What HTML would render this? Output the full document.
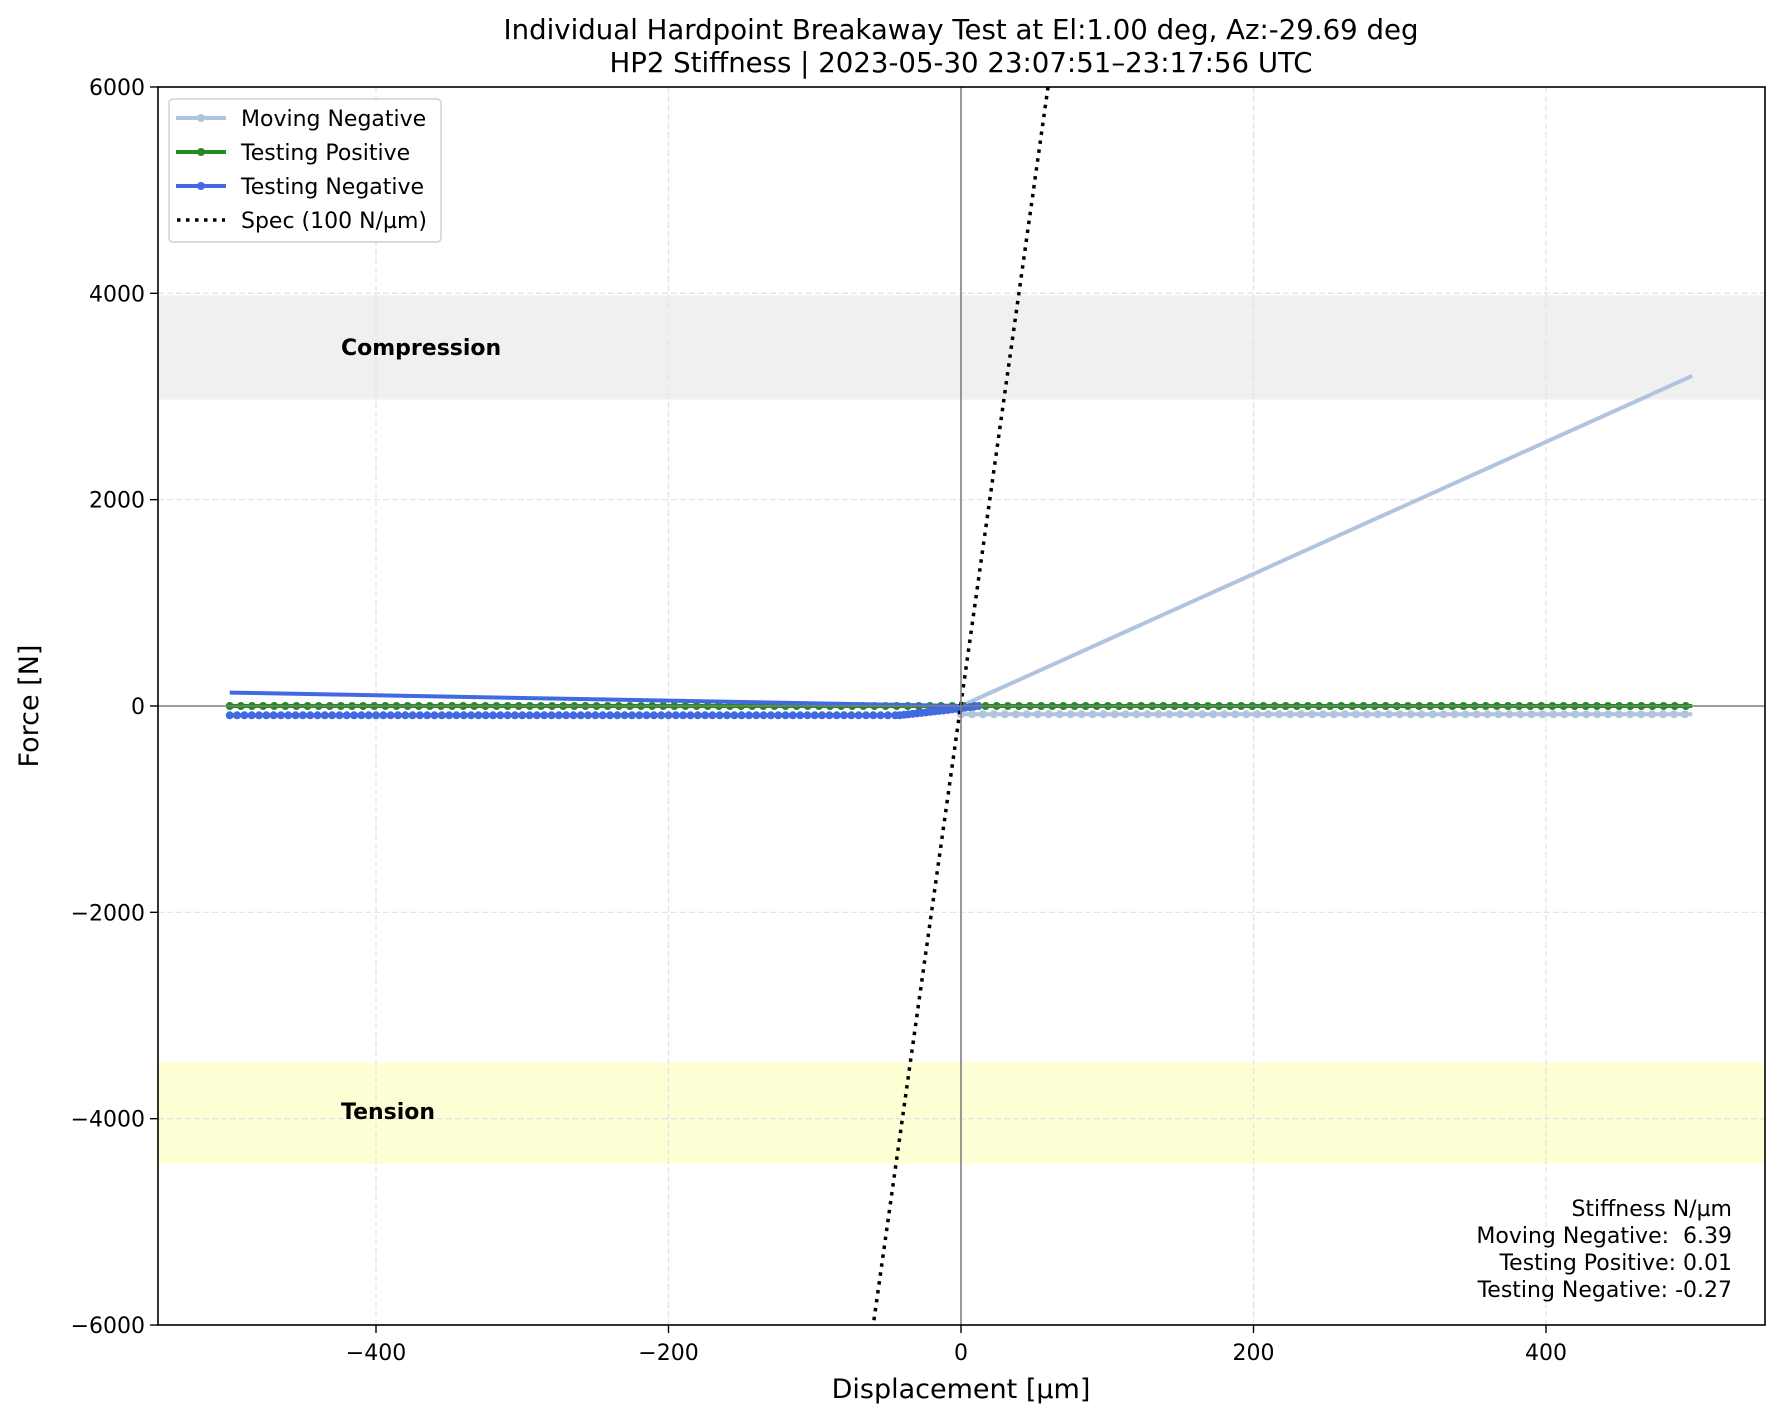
<!DOCTYPE html>
<html><head><meta charset="utf-8"><style>
html,body{margin:0;padding:0;background:#fff;}
svg{display:block;font-family:"DejaVu Sans","Liberation Sans",sans-serif;}
text{white-space:pre;}
</style></head><body>
<svg id="s" width="1782" height="1423" viewBox="0 0 1782 1423" xmlns="http://www.w3.org/2000/svg">
<rect width="1782" height="1423" fill="#fff"/>
<g id="bg"></g>
<g id="data"></g>
<g id="fg"></g>
</svg>
<script>
const NS="http://www.w3.org/2000/svg";
const X=x=>961+1.4625*x, Y=y=>706-0.10317*y;
function el(p,t,a,txt){const e=document.createElementNS(NS,t);for(const k in a)e.setAttribute(k,a[k]);if(txt!==undefined)e.textContent=txt;document.getElementById(p).appendChild(e);return e;}
const L=158,R=1765,T=87,B=1325;
el('bg','rect',{x:L,y:Y(3980),width:R-L,height:Y(2970)-Y(3980),fill:'#f0f0f0'});
el('bg','rect',{x:L,y:Y(-3455),width:R-L,height:Y(-4440)-Y(-3455),fill:'#ffffd6'});
for(const v of [-400,-200,0,200,400])el('bg','line',{x1:X(v),x2:X(v),y1:T,y2:B,stroke:'#e4e4e4','stroke-width':1.3,'stroke-dasharray':'6,3'});
for(const v of [-6000,-4000,-2000,0,2000,4000,6000])el('bg','line',{x1:L,x2:R,y1:Y(v),y2:Y(v),stroke:'#e4e4e4','stroke-width':1.3,'stroke-dasharray':'6,3'});
el('bg','text',{x:341,y:355,'font-size':22,'font-weight':'bold'},'Compression');
el('bg','text',{x:341,y:1119,'font-size':22,'font-weight':'bold'},'Tension');
el('data','line',{x1:X(0),y1:Y(0),x2:X(500),y2:Y(3200),stroke:'#b0c4de','stroke-width':4});
let d='';for(let x=0;x<=500;x+=7.5)d+=`M${X(x)},${Y(-80)}h0`;
el('data','line',{x1:X(0),y1:Y(-80),x2:X(500),y2:Y(-80),stroke:'#b0c4de','stroke-width':4});
el('data','path',{d:d,stroke:'#b0c4de','stroke-width':8,'stroke-linecap':'round'});
d='';for(let x=-500;x<=500;x+=7.6)d+=`M${X(x)},${Y(0)}h0`;
el('data','line',{x1:X(-500),y1:Y(0),x2:X(500),y2:Y(0),stroke:'#228b22','stroke-width':4});
el('data','path',{d:d,stroke:'#228b22','stroke-width':8,'stroke-linecap':'round'});
el('data','line',{x1:X(-500),y1:Y(130),x2:X(0),y2:Y(0),stroke:'#4169e1','stroke-width':4});
el('data','path',{d:`M${X(-500)},${Y(-90)}L${X(-42)},${Y(-90)}L${X(-10)},${Y(-40)}L${X(12)},${Y(0)}`,stroke:'#4169e1','stroke-width':4,fill:'none'});
d='';for(let x=-500;x<=-42;x+=5)d+=`M${X(x)},${Y(-90)}h0`;
for(let x=-42;x<=12;x+=3){const y=x<-10?-90+50*(x+42)/32:-40+40*(x+10)/22;d+=`M${X(x)},${Y(y)}h0`;}
el('data','path',{d:d,stroke:'#4169e1','stroke-width':8,'stroke-linecap':'round'});
el('data','line',{x1:X(59.5),y1:Y(6000),x2:X(-60),y2:Y(-6000),stroke:'#000','stroke-width':3.5,'stroke-dasharray':'3.5,5.5'});
el('fg','line',{x1:L,x2:R,y1:Y(0),y2:Y(0),stroke:'#808080','stroke-width':1.6});
el('fg','line',{x1:X(0),x2:X(0),y1:T,y2:B,stroke:'#808080','stroke-width':1.6});
el('fg','rect',{x:L,y:T,width:R-L,height:B-T,fill:'none',stroke:'#000','stroke-width':1.6});
for(const v of [-400,-200,0,200,400]){el('fg','line',{x1:X(v),x2:X(v),y1:B,y2:B+8,stroke:'#000','stroke-width':1.4});
 el('fg','text',{x:X(v),y:B+35,'font-size':22,'text-anchor':'middle'},v<0?'\u2212'+(-v):v);}
for(const v of [-6000,-4000,-2000,0,2000,4000,6000]){el('fg','line',{x1:L-8,x2:L,y1:Y(v),y2:Y(v),stroke:'#000','stroke-width':1.4});
 el('fg','text',{x:L-13,y:Y(v)+8,'font-size':22,'text-anchor':'end'},v<0?'\u2212'+(-v):v);}
el('fg','text',{x:961,y:1398,'font-size':27,'text-anchor':'middle'},'Displacement [µm]');
el('fg','text',{x:0,y:0,'font-size':27,'text-anchor':'middle',transform:'translate(38,706) rotate(-90)'},'Force [N]');
el('fg','text',{x:961,y:39,'font-size':27.6,'text-anchor':'middle'},'Individual Hardpoint Breakaway Test at El:1.00 deg, Az:-29.69 deg');
el('fg','text',{x:961,y:72,'font-size':27.6,'text-anchor':'middle'},'HP2 Stiffness | 2023-05-30 23:07:51–23:17:56 UTC');
el('fg','rect',{x:169,y:99,width:272,height:143,rx:4,fill:'#fff','fill-opacity':0.85,stroke:'#d0d0d0','stroke-width':1.5});
const items=[['Moving Negative','#b0c4de',0],['Testing Positive','#228b22',0],['Testing Negative','#4169e1',0],['Spec (100 N/µm)','#000',1]];
items.forEach((it,i)=>{const y=118+34*i;
 if(it[2])el('fg','line',{x1:177,x2:225,y1:y,y2:y,stroke:'#000','stroke-width':3.5,'stroke-dasharray':'3.5,5.5'});
 else{el('fg','line',{x1:176,x2:226,y1:y,y2:y,stroke:it[1],'stroke-width':4});el('fg','circle',{cx:201,cy:y,r:4,fill:it[1]});}
 el('fg','text',{x:241,y:y+8,'font-size':22},it[0]);});
['Stiffness N/µm','Moving Negative:  6.39','Testing Positive: 0.01','Testing Negative: -0.27'].forEach((t,i)=>{
 el('fg','text',{x:1732,y:1216+27*i,'font-size':22,'text-anchor':'end'},t);});
</script>
</body></html>
